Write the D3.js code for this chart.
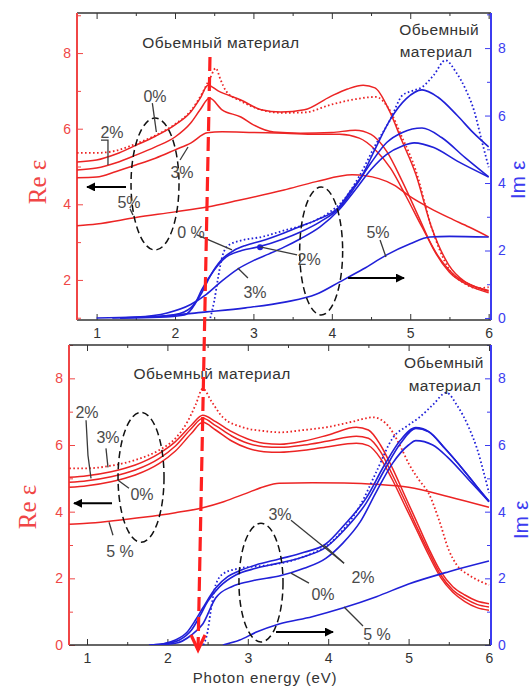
<!DOCTYPE html>
<html>
<head>
<meta charset="utf-8">
<script src="https://cdn.jsdelivr.net/npm/d3@7"></script>
<style>
  body { margin: 0; background: #fff; }
  svg { font-family: "Liberation Sans", Arial, sans-serif; }
</style>
</head>
<body>
<svg id="chart" width="531" height="688"></svg>
<script>
// tick values
const energyTicks = [1, 2, 3, 4, 5, 6];
const energyMinor = [1.5, 2.5, 3.5, 4.5, 5.5];
const reTicksTop = [2, 4, 6, 8];
const reTicksBottom = [0, 2, 4, 6, 8];
const imTicks = [0, 2, 4, 6, 8];

// top panel, Re eps: [energy, value]
const topReBulk = [[0.75,5.36],[1.0,5.36],[1.25,5.42],[1.5,5.6],[1.75,5.82],[2.0,6.12],[2.2,6.47],[2.35,6.95],[2.45,7.35],[2.52,7.6],[2.58,7.3],[2.65,7.0],[2.85,6.72],[3.1,6.5],[3.35,6.42],[3.65,6.43],[3.98,6.63],[4.3,6.78],[4.56,6.84],[4.72,6.55],[4.89,5.8],[5.07,4.9],[5.27,3.4],[5.49,2.3],[5.7,1.9],[5.85,1.78],[6.0,1.81]];
const topRe0 = [[0.75,5.12],[1.0,5.17],[1.25,5.33],[1.5,5.56],[1.75,5.8],[2.0,6.1],[2.2,6.44],[2.32,6.8],[2.42,7.15],[2.55,7.0],[2.84,6.76],[3.1,6.5],[3.35,6.44],[3.65,6.5],[3.98,6.85],[4.2,7.05],[4.4,7.15],[4.55,7.08],[4.73,6.49],[4.89,5.7],[5.07,4.8],[5.27,3.4],[5.49,2.4],[5.7,1.95],[5.85,1.8],[6.0,1.7]];
const topRe2 = [[0.75,4.91],[1.0,4.96],[1.25,5.1],[1.5,5.3],[1.75,5.52],[2.0,5.78],[2.2,6.15],[2.32,6.5],[2.44,6.81],[2.6,6.5],[2.84,6.31],[3.0,6.1],[3.26,5.91],[3.6,5.88],[4.0,5.9],[4.3,5.96],[4.5,5.85],[4.7,5.4],[4.9,4.6],[5.1,3.7],[5.3,2.8],[5.5,2.2],[5.75,1.85],[6.0,1.66]];
const topRe3 = [[0.75,4.7],[1.0,4.72],[1.25,4.87],[1.5,5.04],[1.75,5.22],[2.0,5.44],[2.2,5.62],[2.41,5.89],[2.6,5.92],[3.0,5.9],[3.4,5.88],[3.8,5.85],[4.1,5.85],[4.35,5.75],[4.55,5.45],[4.75,4.95],[4.95,4.2],[5.15,3.4],[5.35,2.65],[5.55,2.15],[5.8,1.85],[6.0,1.72]];
const topRe5 = [[0.75,3.43],[1.0,3.48],[1.5,3.65],[2.0,3.8],[2.41,3.93],[2.8,4.1],[3.39,4.38],[3.8,4.6],[4.26,4.78],[4.6,4.68],[4.8,4.5],[5.0,4.2],[5.25,3.9],[5.5,3.64],[5.75,3.4],[6.0,3.14]];

// top panel, Im eps
const topImBulk = [[2.45,0],[2.5,0.5],[2.55,1.2],[2.6,1.8],[2.68,2.15],[2.85,2.3],[3.1,2.4],[3.4,2.6],[3.7,2.8],[3.95,3.1],[4.15,3.5],[4.35,4.2],[4.55,5.1],[4.75,5.9],[4.9,6.6],[5.05,6.75],[5.15,6.84],[5.3,7.2],[5.45,7.64],[5.58,7.3],[5.71,6.76],[5.82,6.1],[5.91,5.27],[6.0,4.47]];
const topIm0 = [[1.2,0],[1.7,0.03],[2.0,0.1],[2.2,0.3],[2.34,0.74],[2.45,1.25],[2.59,1.72],[2.75,2.0],[2.9,2.15],[3.1,2.28],[3.39,2.52],[3.58,2.7],[3.8,2.9],[4.09,3.29],[4.25,3.8],[4.38,4.2],[4.55,5.0],[4.75,5.9],[4.95,6.5],[5.15,6.76],[5.35,6.55],[5.6,6.0],[5.8,5.5],[6.0,5.07]];
const topIm2 = [[1.3,0],[1.8,0.02],[2.12,0.09],[2.25,0.4],[2.34,0.83],[2.5,1.42],[2.65,1.8],[2.85,2.0],[3.05,2.1],[3.39,2.35],[3.6,2.55],[3.85,2.85],[4.09,3.25],[4.3,3.9],[4.5,4.6],[4.7,5.2],[4.9,5.5],[5.15,5.63],[5.4,5.35],[5.7,4.75],[6.0,4.18]];
const topIm3 = [[1.0,0],[1.5,0.03],[1.9,0.15],[2.2,0.4],[2.4,0.7],[2.6,1.1],[2.8,1.45],[3.0,1.7],[3.2,1.9],[3.39,2.1],[3.6,2.35],[3.85,2.7],[4.09,3.2],[4.3,3.8],[4.5,4.4],[4.7,4.85],[4.9,5.1],[5.05,5.19],[5.3,5.05],[5.6,4.65],[6.0,4.18]];
const topIm5 = [[1.3,0],[1.8,0.05],[2.4,0.18],[2.9,0.3],[3.4,0.47],[3.8,0.7],[4.1,1.07],[4.4,1.45],[4.7,1.87],[5.0,2.2],[5.25,2.4],[5.5,2.42],[6.0,2.4]];

// bottom panel, Re eps
const botReBulk = [[0.78,5.3],[1.0,5.3],[1.3,5.38],[1.6,5.55],[1.9,5.85],[2.1,6.2],[2.25,6.7],[2.35,7.2],[2.44,7.69],[2.55,7.3],[2.69,6.83],[2.94,6.53],[3.2,6.42],[3.4,6.38],[3.7,6.45],[3.97,6.53],[4.3,6.7],[4.56,6.83],[4.76,6.53],[4.9,5.95],[5.0,5.45],[5.13,4.95],[5.25,4.55],[5.38,3.74],[5.5,2.85],[5.6,2.4],[5.75,2.1],[5.9,1.9],[6.0,1.8]];
const botRe2 = [[0.78,5.03],[1.0,5.08],[1.3,5.2],[1.6,5.4],[1.9,5.75],[2.1,6.1],[2.3,6.6],[2.44,6.89],[2.6,6.7],[2.8,6.4],[3.0,6.18],[3.2,6.05],[3.4,6.02],[3.7,6.12],[4.0,6.3],[4.35,6.53],[4.5,6.45],[4.65,6.0],[4.8,5.3],[4.95,4.5],[5.1,3.7],[5.25,2.9],[5.4,2.2],[5.55,1.75],[5.7,1.5],[5.85,1.32],[6.0,1.24]];
const botRe3 = [[0.78,4.88],[1.0,4.93],[1.3,5.05],[1.6,5.25],[1.9,5.6],[2.1,5.97],[2.3,6.5],[2.44,6.8],[2.6,6.58],[2.8,6.27],[3.0,6.05],[3.2,5.95],[3.4,5.93],[3.7,6.0],[4.0,6.12],[4.35,6.26],[4.5,6.2],[4.65,5.8],[4.8,5.1],[4.95,4.35],[5.1,3.55],[5.25,2.8],[5.4,2.1],[5.55,1.65],[5.7,1.4],[5.85,1.22],[6.0,1.14]];
const botRe0 = [[0.78,4.73],[1.0,4.78],[1.3,4.9],[1.6,5.1],[1.9,5.45],[2.1,5.82],[2.3,6.35],[2.44,6.68],[2.6,6.45],[2.8,6.12],[3.0,5.9],[3.2,5.8],[3.4,5.78],[3.7,5.84],[4.0,5.95],[4.35,6.05],[4.5,5.98],[4.65,5.6],[4.8,4.95],[4.95,4.2],[5.1,3.45],[5.25,2.7],[5.4,2.02],[5.55,1.58],[5.7,1.3],[5.85,1.12],[6.0,1.04]];
const botRe5 = [[0.78,3.62],[1.0,3.65],[1.3,3.72],[1.7,3.83],[2.1,3.97],[2.44,4.12],[2.7,4.3],[2.98,4.55],[3.2,4.75],[3.39,4.85],[3.8,4.87],[4.2,4.86],[4.6,4.82],[5.0,4.73],[5.5,4.45],[6.0,4.13]];

// bottom panel, Im eps
const botImBulk = [[2.45,0],[2.5,0.4],[2.55,1.2],[2.6,1.8],[2.7,2.15],[2.9,2.3],[3.2,2.38],[3.5,2.5],[3.8,2.75],[4.0,3.0],[4.2,3.5],[4.4,4.2],[4.6,5.2],[4.8,6.2],[5.0,6.6],[5.13,6.82],[5.3,7.2],[5.47,7.57],[5.6,7.2],[5.75,6.52],[5.85,5.9],[5.93,5.22],[6.0,4.56]];
const botIm3 = [[1.77,0],[1.95,0.04],[2.1,0.15],[2.25,0.4],[2.35,0.75],[2.44,1.11],[2.6,1.71],[2.75,2.05],[2.89,2.22],[3.1,2.4],[3.39,2.58],[3.7,2.78],[3.97,3.03],[4.2,3.6],[4.47,4.4],[4.7,5.4],[4.9,6.15],[5.09,6.52],[5.25,6.4],[5.45,5.9],[5.7,5.2],[5.85,4.75],[6.0,4.32]];
const botIm2 = [[1.8,0],[2.0,0.05],[2.15,0.15],[2.3,0.45],[2.4,0.85],[2.5,1.3],[2.65,1.75],[2.85,2.1],[3.1,2.3],[3.39,2.46],[3.7,2.65],[3.97,2.93],[4.2,3.45],[4.47,4.25],[4.7,5.25],[4.9,6.05],[5.09,6.5],[5.25,6.4],[5.45,5.9],[5.7,5.2],[5.85,4.75],[6.0,4.3]];
const botIm0 = [[1.85,0],[2.1,0.05],[2.3,0.3],[2.44,0.63],[2.6,1.41],[2.8,1.75],[2.89,1.83],[3.1,1.95],[3.39,2.07],[3.7,2.3],[3.97,2.6],[4.18,3.05],[4.4,3.7],[4.6,4.6],[4.8,5.45],[5.0,6.0],[5.09,6.13],[5.3,6.0],[5.5,5.6],[5.75,4.95],[6.0,4.3]];
const botIm5 = [[2.69,0],[2.9,0.15],[3.1,0.38],[3.39,0.63],[3.8,0.85],[4.18,1.11],[4.6,1.45],[5.0,1.83],[5.5,2.2],[6.0,2.52]];

// annotations, in (energy, Re eps) units of each panel
const bulkTitle = "Обьемный материал";
const bulkWords = ["Обьемный", "материал"];
const topNotes = [["0%",1.745,6.705],["2%",1.196,5.753],["3%",2.089,4.696],["5%",1.413,3.903],["0 %",2.204,3.11],["3%",3.02,1.524],["2%",3.71,2.396],["5%",4.589,3.11]];
const topLeaders = [[[1.711,6.678],[1.762,5.912]],[[1.056,5.7],[1.145,5.7],[1.145,5.04]],[[2.064,5.172],[2.166,5.515]],[[1.426,3.88],[1.464,3.718]],[[2.28,3.189],[2.727,2.793]],[[2.93,2.052],[2.8,2.317]],[[3.085,2.872],[3.557,2.66]],[[4.615,3.057],[4.69,2.608]]];
const topArrows = [[[1.375,4.458],[0.878,4.458]],[[4.207,2.05],[4.921,2.05]]];
const topOvals = [[1.745,4.537,0.306,1.745],[3.864,2.766,0.274,1.692]];
const topTitlePos = [[2.586,8.13],[5.37,8.48],[5.33,7.89]];
const topDot = [3.085, 2.10]; // on Im scale

const botNotes = [["2%",1.0,6.8],["3%",1.261,6.05],["0%",1.684,4.34],["5 %",1.41,2.635],["3%",3.4,3.743],["2%",4.433,1.856],["0%",3.935,1.347],["5 %",4.607,0.15]];
const botLeaders = [[[0.988,6.74],[1.012,5.69],[1.05,5.0]],[[1.236,5.9],[1.261,5.33]],[[1.386,4.94],[1.522,4.7]],[[1.274,3.683],[1.323,3.293]],[[3.537,3.743],[4.197,2.455]],[[3.948,2.994],[4.197,2.455]],[[3.537,2.156],[3.761,1.856]],[[4.197,1.138],[4.433,0.569]]];
const botArrows = [[[1.311,4.25],[0.838,4.25]],[[3.351,0.389],[4.06,0.389]]];
const botOvals = [[1.672,5.03,0.286,1.946],[3.164,1.871,0.274,1.78]];
const botTitlePos = [[2.555,7.99],[5.44,8.32],[5.453,7.635]];

// red guide line: start on top panel, end on bottom panel (energy, Re)
const guideStart = [2.446, 7.894];
const guideEnd = [2.381, -0.15];

const RED = "#ec2424", BLUE = "#2020d8", RED_AX = "#f04646", BLUE_AX = "#3c3cf0", NOTE = "#4a4a4a";
const SANS = "Liberation Sans, Arial, sans-serif";
const SERIF = "Liberation Serif, Times New Roman, serif";

const svg = d3.select("#chart");
const defs = svg.append("defs");
defs.append("marker")
    .attr("id", "head")
    .attr("viewBox", "0 0 10 10")
    .attr("refX", 9).attr("refY", 5)
    .attr("markerWidth", 4.5).attr("markerHeight", 4.5)
    .attr("orient", "auto")
  .append("path")
    .attr("d", "M0,0L10,5L0,10Z")
    .attr("fill", "#000");

const panels = [
  {id: "top", left: 77, right: 491, top: 13, bottom: 320,
   eDomain: [0.75, 6.03], reDomain: [0.94, 9.06], imDomain: [-0.06, 9.04],
   reTicks: reTicksTop, reMinor: [1, 3, 5, 7, 9],
   re: [topReBulk, topRe0, topRe2, topRe3, topRe5], im: [topImBulk, topIm0, topIm2, topIm3, topIm5],
   notes: topNotes, leaders: topLeaders, arrows: topArrows, ovals: topOvals, titles: topTitlePos,
   reLabel: [37, 182], imLabel: [517, 180]},
  {id: "bot", left: 69, right: 491, top: 345, bottom: 645,
   eDomain: [0.776, 6.025], reDomain: [0, 9], imDomain: [0, 9],
   reTicks: reTicksBottom, reMinor: [1, 3, 5, 7, 9],
   re: [botReBulk, botRe2, botRe3, botRe0, botRe5], im: [botImBulk, botIm3, botIm2, botIm0, botIm5],
   notes: botNotes, leaders: botLeaders, arrows: botArrows, ovals: botOvals, titles: botTitlePos,
   reLabel: [27, 507], imLabel: [520, 520]}
];

panels.forEach(p => {
  p.x = d3.scaleLinear().domain(p.eDomain).range([p.left, p.right]);
  p.yRe = d3.scaleLinear().domain(p.reDomain).range([p.bottom, p.top]);
  p.yIm = d3.scaleLinear().domain(p.imDomain).range([p.bottom, p.top]);
  const g = svg.append("g");

  defs.append("clipPath").attr("id", "clip-" + p.id)
    .append("rect")
      .attr("x", p.left).attr("y", p.top)
      .attr("width", p.right - p.left).attr("height", p.bottom - p.top);

  // axes (ticks inward)
  const bottomAx = g.append("g").attr("transform", `translate(0,${p.bottom})`)
      .call(d3.axisBottom(p.x).tickValues(energyTicks).tickSize(-6).tickPadding(8).tickFormat(d3.format("d")));
  const bottomMinor = g.append("g").attr("transform", `translate(0,${p.bottom})`)
      .call(d3.axisBottom(p.x).tickValues(energyMinor).tickSize(-3).tickFormat(""));
  const topAx = g.append("g").attr("transform", `translate(0,${p.top})`)
      .call(d3.axisTop(p.x).tickValues(energyTicks).tickSize(-6).tickFormat(""));
  const topMinor = g.append("g").attr("transform", `translate(0,${p.top})`)
      .call(d3.axisTop(p.x).tickValues(energyMinor).tickSize(-3).tickFormat(""));
  const leftAx = g.append("g").attr("transform", `translate(${p.left},0)`)
      .call(d3.axisLeft(p.yRe).tickValues(p.reTicks).tickSize(-6).tickPadding(6).tickFormat(d3.format("d")));
  const leftMinor = g.append("g").attr("transform", `translate(${p.left},0)`)
      .call(d3.axisLeft(p.yRe).tickValues(p.reMinor).tickSize(-4).tickFormat(""));
  const rightAx = g.append("g").attr("transform", `translate(${p.right},0)`)
      .call(d3.axisRight(p.yIm).tickValues(imTicks).tickSize(-6).tickPadding(7).tickFormat(d3.format("d")));
  const rightMinor = g.append("g").attr("transform", `translate(${p.right},0)`)
      .call(d3.axisRight(p.yIm).tickValues([1, 3, 5, 7, 9]).tickSize(-4).tickFormat(""));

  g.selectAll(".domain").remove();
  g.selectAll(".tick text").style("font-size", "14px").style("font-family", SANS);
  [bottomAx, bottomMinor, topAx, topMinor].forEach(a => a.selectAll(".tick line").attr("stroke", "#333"));
  [leftAx, leftMinor].forEach(a => a.selectAll(".tick line").attr("stroke", RED_AX));
  [rightAx, rightMinor].forEach(a => a.selectAll(".tick line").attr("stroke", BLUE_AX));
  bottomAx.selectAll(".tick text").attr("fill", "#333");
  leftAx.selectAll(".tick text").attr("fill", RED_AX);
  rightAx.selectAll(".tick text").attr("fill", BLUE_AX);

  // frame
  g.append("line").attr("x1", p.left).attr("x2", p.right).attr("y1", p.top).attr("y2", p.top)
    .attr("stroke", "#333").attr("stroke-width", 1.5);
  g.append("line").attr("x1", p.left).attr("x2", p.right).attr("y1", p.bottom).attr("y2", p.bottom)
    .attr("stroke", "#333").attr("stroke-width", 1.5);
  g.append("line").attr("x1", p.left).attr("x2", p.left).attr("y1", p.top).attr("y2", p.bottom)
    .attr("stroke", RED_AX).attr("stroke-width", 2);
  g.append("line").attr("x1", p.right).attr("x2", p.right).attr("y1", p.top).attr("y2", p.bottom)
    .attr("stroke", BLUE_AX).attr("stroke-width", 2);

  // axis titles
  g.append("text")
    .attr("transform", `translate(${p.reLabel[0]},${p.reLabel[1]}) rotate(-90)`)
    .attr("text-anchor", "middle").attr("dominant-baseline", "central")
    .style("font-family", SERIF)
    .style("font-size", "25px").attr("fill", RED_AX).text("Re ε");
  g.append("text")
    .attr("transform", `translate(${p.imLabel[0]},${p.imLabel[1]}) rotate(-90)`)
    .attr("text-anchor", "middle").attr("dominant-baseline", "central")
    .style("font-family", SANS)
    .style("font-size", "21px").attr("fill", BLUE_AX).text("Im ε");

  // curves
  const plot = g.append("g").attr("clip-path", `url(#clip-${p.id})`);
  const lineRe = d3.line().x(d => p.x(d[0])).y(d => p.yRe(d[1])).curve(d3.curveMonotoneX);
  const lineIm = d3.line().x(d => p.x(d[0])).y(d => p.yIm(d[1])).curve(d3.curveMonotoneX);

  plot.selectAll(".re").data(p.re).join("path")
    .attr("class", "re")
    .attr("d", lineRe)
    .attr("fill", "none").attr("stroke", RED)
    .attr("stroke-width", (d, i) => i === 0 ? 1.8 : 1.5)
    .attr("stroke-dasharray", (d, i) => i === 0 ? "1.6,2.4" : null);

  plot.selectAll(".im").data(p.im).join("path")
    .attr("class", "im")
    .attr("d", lineIm)
    .attr("fill", "none").attr("stroke", BLUE)
    .attr("stroke-width", (d, i) => i === 0 ? 1.8 : 1.6)
    .attr("stroke-dasharray", (d, i) => i === 0 ? "1.6,2.4" : null);

  if (p.id === "top") {
    g.append("circle").attr("cx", p.x(topDot[0])).attr("cy", p.yIm(topDot[1]))
      .attr("r", 3).attr("fill", BLUE);
  }

  // ovals
  g.selectAll(".oval").data(p.ovals).join("ellipse")
    .attr("cx", d => p.x(d[0])).attr("cy", d => p.yRe(d[1]))
    .attr("rx", d => p.x(d[0] + d[2]) - p.x(d[0]))
    .attr("ry", d => p.yRe(d[1]) - p.yRe(d[1] + d[3]))
    .attr("fill", "none").attr("stroke", "#111")
    .attr("stroke-width", 1.5).attr("stroke-dasharray", "7,4");

  // leaders
  const lineN = d3.line().x(d => p.x(d[0])).y(d => p.yRe(d[1]));
  g.selectAll(".leader").data(p.leaders).join("path")
    .attr("d", lineN).attr("fill", "none")
    .attr("stroke", "#3a3a3a").attr("stroke-width", 1.3);

  // arrows
  g.selectAll(".arrow").data(p.arrows).join("path")
    .attr("d", lineN).attr("fill", "none")
    .attr("stroke", "#000").attr("stroke-width", 2)
    .attr("marker-end", "url(#head)");

  // notes
  g.selectAll(".note").data(p.notes).join("text")
    .attr("x", d => p.x(d[1])).attr("y", d => p.yRe(d[2]))
    .attr("text-anchor", "middle")
    .style("font-size", "16px").attr("fill", NOTE)
    .text(d => d[0]);

  // bulk material titles
  const titleTexts = [bulkTitle, bulkWords[0], bulkWords[1]];
  g.selectAll(".ttl").data(p.titles).join("text")
    .attr("x", d => p.x(d[0])).attr("y", d => p.yRe(d[1]))
    .attr("text-anchor", "middle")
    .style("font-size", "15.5px").attr("letter-spacing", 0.4).attr("fill", "#333")
    .text((d, i) => titleTexts[i]);
});

// red dashed guide across both panels
const gs = [panels[0].x(guideStart[0]), panels[0].yRe(guideStart[1])];
const ge = [panels[1].x(guideEnd[0]), panels[1].yRe(guideEnd[1])];
svg.append("line")
  .attr("x1", gs[0]).attr("y1", gs[1]).attr("x2", ge[0]).attr("y2", ge[1])
  .attr("stroke", "#ff2020").attr("stroke-width", 3.2)
  .attr("stroke-dasharray", "14,6");
svg.append("path")
  .attr("d", `M${ge[0] - 7},${ge[1] - 15}L${ge[0]},${ge[1]}L${ge[0] + 7},${ge[1] - 15}`)
  .attr("fill", "none").attr("stroke", "#ff2020").attr("stroke-width", 3.2);

// x axis label
svg.append("text")
  .attr("x", 265).attr("y", 683)
  .attr("text-anchor", "middle")
  .style("font-size", "15px").attr("letter-spacing", 0.8).attr("fill", "#333")
  .text("Photon energy (eV)");
</script>
</body>
</html>
